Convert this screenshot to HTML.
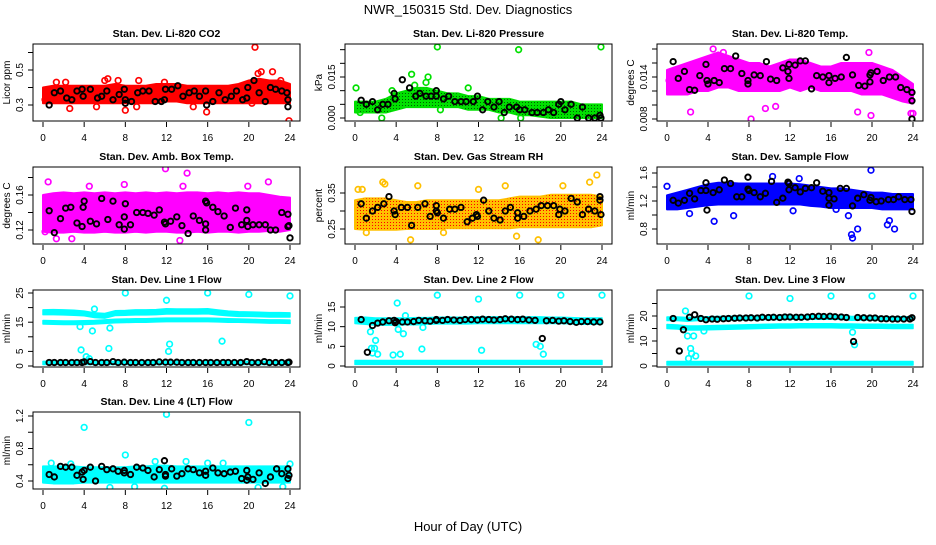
<!DOCTYPE html>
<html><head><meta charset="utf-8"><style>
html,body{margin:0;padding:0;background:#fff}
svg text{font-family:"Liberation Sans",Arial,sans-serif}
</style></head><body>
<svg id="chart" width="936" height="540" viewBox="0 0 936 540" xmlns="http://www.w3.org/2000/svg">
<rect width="936" height="540" fill="#fff"/>
<text x="468" y="14" font-size="13" text-anchor="middle">NWR_150315  Std. Dev. Diagnostics</text>
<text x="468" y="531" font-size="13" text-anchor="middle">Hour of Day (UTC)</text>
<g id="panels"></g>
</svg>
<script>
const bandHours=[0,1,2,3,4,5,6,7,8,9,10,11,12,13,14,15,16,17,18,19,20,21,22,23,24];
const xTicks=[0,4,8,12,16,20,24];

const co2Lo=[0.31,0.31,0.31,0.31,0.31,0.31,0.31,0.31,0.31,0.31,0.31,0.31,0.32,0.32,0.31,0.31,0.31,0.31,0.31,0.31,0.31,0.31,0.31,0.31,0.31];
const co2Hi=[0.40,0.41,0.41,0.41,0.41,0.41,0.41,0.42,0.41,0.41,0.41,0.42,0.42,0.42,0.41,0.41,0.41,0.41,0.41,0.42,0.44,0.45,0.44,0.44,0.42];
const co2Out=[[20.6,0.63],[23.9,0.21],[15.9,0.26],[8.0,0.27],[2.6,0.28],[5.2,0.29],[9.1,0.29],[14.6,0.29],[6.3,0.45],[6.0,0.44],[1.3,0.43],[2.2,0.43],[7.3,0.44],[9.3,0.44],[21.2,0.49],[22.3,0.49],[20.9,0.48],[23.1,0.44],[11.8,0.43],[20.3,0.31],[0.2,0.33]];
const co2Blk=[[0.6,0.30],[1.1,0.37],[1.7,0.38],[2.3,0.34],[2.8,0.33],[3.3,0.38],[3.8,0.39],[3.9,0.35],[4.6,0.39],[5.3,0.34],[5.7,0.35],[6.2,0.38],[6.8,0.33],[7.4,0.36],[7.9,0.39],[8.0,0.33],[8.0,0.31],[8.6,0.32],[9.2,0.37],[9.7,0.38],[10.3,0.38],[10.9,0.32],[11.5,0.32],[11.8,0.33],[11.9,0.39],[12.5,0.39],[13.1,0.41],[13.6,0.35],[14.2,0.37],[14.7,0.38],[15.2,0.35],[15.8,0.38],[15.9,0.30],[16.5,0.32],[17.1,0.37],[17.7,0.33],[18.3,0.35],[18.8,0.38],[19.4,0.33],[19.8,0.34],[19.9,0.40],[20.5,0.44],[21.0,0.37],[21.6,0.32],[22.1,0.40],[22.6,0.39],[23.2,0.38],[23.7,0.37],[23.8,0.33],[23.8,0.29]];

const presLo=[0.002,0.002,0.002,0.002,0.003,0.004,0.004,0.004,0.004,0.004,0.004,0.003,0.003,0.003,0.002,0.002,0.001,0.001,0.0005,0,0,0,0,0,0];
const presHi=[0.006,0.006,0.006,0.007,0.009,0.010,0.011,0.011,0.010,0.009,0.009,0.008,0.008,0.007,0.007,0.007,0.006,0.006,0.006,0.006,0.006,0.006,0.005,0.005,0.005];
const presOut=[[0.1,0.011],[0.5,0.002],[2.6,0.000],[5.5,0.016],[5.8,0.012],[7.1,0.015],[6.9,0.013],[8.0,0.026],[8.3,0.003],[15.9,0.025],[23.9,0.026],[14.2,0.000],[16.1,0.000],[3.6,0.010],[11,0.011]];
const presBlk=[[0.6,0.0065],[1.1,0.005],[1.7,0.006],[2.2,0.003],[2.7,0.005],[3.2,0.005],[3.8,0.009],[3.9,0.007],[4.6,0.014],[5.3,0.011],[5.9,0.008],[6.3,0.009],[6.9,0.008],[7.4,0.008],[7.9,0.010],[7.9,0.008],[8.6,0.007],[9.1,0.008],[9.7,0.006],[10.3,0.006],[10.8,0.006],[11.5,0.006],[11.9,0.008],[12.4,0.003],[12.9,0.006],[13.5,0.004],[14,0.006],[14.5,0.002],[15,0.004],[15.7,0.004],[16,0.003],[16.5,0.003],[17.2,0.002],[17.7,0.002],[18.3,0.002],[18.8,0.003],[19.3,0.002],[19.8,0.005],[20.0,0.006],[20.4,0.003],[21.0,0.005],[21.6,0.0],[22.1,0.004],[22.7,0.0],[23.3,0.0],[23.8,0.001],[23.9,0.0]];

const tLo=[0.0115,0.0115,0.0115,0.012,0.012,0.0125,0.0125,0.012,0.012,0.012,0.012,0.012,0.0125,0.012,0.0125,0.012,0.012,0.012,0.012,0.0115,0.0115,0.0115,0.011,0.0105,0.0102];
const tHi=[0.015,0.0155,0.016,0.0165,0.017,0.0175,0.017,0.0165,0.016,0.016,0.0155,0.016,0.0165,0.0165,0.016,0.0155,0.0155,0.016,0.016,0.016,0.016,0.0155,0.015,0.014,0.013];
const tOut=[[2.3,0.009],[8.2,0.008],[9.6,0.0095],[18.6,0.009],[19.9,0.0085],[23.8,0.0088],[24,0.0088],[19.7,0.0175],[4.5,0.018],[5.5,0.0175],[10.6,0.0098],[0.2,0.0135]];
const tBlk=[[0.6,0.0162],[1.1,0.0138],[1.7,0.0148],[2.2,0.0122],[2.7,0.0121],[3.2,0.0142],[3.8,0.0158],[3.9,0.0135],[4.0,0.0130],[4.6,0.0135],[5.1,0.0132],[5.6,0.0152],[6.2,0.0152],[6.7,0.0170],[7.3,0.0145],[7.9,0.0135],[7.9,0.0130],[8.5,0.0143],[9.1,0.0142],[9.7,0.0162],[10.1,0.0137],[10.7,0.0135],[11.3,0.0153],[11.8,0.0148],[11.9,0.0158],[11.9,0.0138],[12.5,0.0157],[13.0,0.0163],[13.5,0.0163],[14.1,0.0123],[14.6,0.0142],[15.2,0.0140],[15.8,0.0142],[15.8,0.0132],[16.4,0.0138],[17,0.0140],[17.5,0.0168],[18.1,0.0143],[18.7,0.0128],[19.3,0.0127],[19.8,0.0143],[19.9,0.0146],[19.8,0.0133],[20.5,0.0148],[21.1,0.0135],[21.7,0.0140],[22.3,0.0140],[22.8,0.0125],[23.4,0.0122],[23.9,0.0118],[23.9,0.0106],[23.9,0.0080]];

const ambLo=[0.118,0.117,0.117,0.118,0.117,0.117,0.118,0.117,0.117,0.118,0.117,0.118,0.118,0.117,0.117,0.118,0.117,0.118,0.118,0.117,0.118,0.118,0.119,0.118,0.120];
const ambHi=[0.160,0.162,0.163,0.162,0.163,0.162,0.163,0.162,0.163,0.162,0.163,0.162,0.163,0.162,0.163,0.163,0.162,0.163,0.162,0.163,0.162,0.162,0.160,0.158,0.157];
const ambOut=[[11.9,0.19],[14.0,0.185],[17.3,0.10],[2.8,0.11],[1.3,0.11],[0.5,0.175],[21.9,0.175],[13.6,0.17],[4.5,0.17],[7.9,0.172],[19.9,0.17],[0.2,0.118],[13.3,0.108]];
const ambBlk=[[0.6,0.142],[1.1,0.117],[1.7,0.133],[2.2,0.145],[2.7,0.146],[3.3,0.128],[3.8,0.124],[3.9,0.146],[4.0,0.153],[4.6,0.130],[5.2,0.127],[5.7,0.156],[6.3,0.132],[6.8,0.153],[7.4,0.126],[7.9,0.121],[7.9,0.135],[8.0,0.150],[8.5,0.126],[9.1,0.140],[9.7,0.140],[10.2,0.139],[10.8,0.137],[11.3,0.143],[11.8,0.129],[11.9,0.127],[12.4,0.130],[13,0.135],[13.5,0.125],[14.1,0.116],[14.6,0.136],[15.2,0.131],[15.8,0.120],[15.8,0.127],[15.8,0.153],[15.9,0.151],[16.5,0.146],[17,0.141],[17.6,0.136],[18.2,0.123],[18.7,0.145],[19.3,0.126],[19.8,0.143],[19.8,0.131],[19.9,0.124],[20.4,0.126],[21,0.126],[21.6,0.126],[22.1,0.120],[22.6,0.120],[23.2,0.140],[23.8,0.138],[23.8,0.124],[23.9,0.125],[24,0.111]];

const rhLo=[0.250,0.248,0.248,0.248,0.248,0.250,0.250,0.250,0.250,0.252,0.252,0.252,0.252,0.252,0.252,0.252,0.255,0.255,0.255,0.255,0.255,0.255,0.255,0.255,0.260];
const rhHi=[0.330,0.335,0.335,0.335,0.330,0.325,0.325,0.330,0.330,0.330,0.330,0.330,0.330,0.330,0.330,0.335,0.340,0.340,0.340,0.345,0.345,0.345,0.345,0.345,0.340];
const rhOut=[[2.7,0.38],[2.9,0.375],[6.1,0.37],[5.4,0.22],[17.8,0.22],[23.5,0.40],[15.7,0.23],[1.1,0.24],[8.6,0.24],[0.3,0.36],[0.7,0.36],[12.0,0.36],[14.6,0.37],[22.8,0.38],[20.2,0.37]];
const rhBlk=[[0.6,0.32],[1.1,0.28],[1.7,0.30],[2.2,0.31],[2.8,0.32],[3.3,0.34],[3.8,0.30],[3.9,0.29],[4.5,0.31],[5.1,0.31],[5.5,0.26],[6.1,0.31],[6.8,0.32],[7.3,0.285],[7.9,0.315],[7.9,0.30],[8.0,0.295],[8.6,0.28],[9.2,0.305],[9.7,0.305],[10.3,0.31],[10.9,0.27],[11.4,0.28],[11.8,0.29],[11.9,0.285],[12.5,0.33],[13,0.30],[13.5,0.28],[14.1,0.275],[14.6,0.30],[15.1,0.31],[15.8,0.28],[15.8,0.295],[16.4,0.285],[17,0.30],[17.6,0.305],[18.1,0.315],[18.7,0.315],[19.3,0.315],[19.8,0.29],[19.9,0.305],[20.4,0.30],[21,0.335],[21.6,0.325],[22.1,0.29],[22.7,0.305],[23.3,0.30],[23.8,0.33],[23.8,0.34],[23.9,0.29]];

const flLo=[1.08,1.08,1.10,1.12,1.14,1.15,1.15,1.15,1.15,1.15,1.15,1.15,1.15,1.15,1.13,1.12,1.10,1.10,1.10,1.10,1.10,1.08,1.08,1.08,1.08];
const flHi=[1.28,1.32,1.36,1.40,1.44,1.46,1.46,1.45,1.45,1.45,1.45,1.45,1.45,1.44,1.42,1.40,1.38,1.38,1.36,1.34,1.32,1.32,1.30,1.30,1.30];
const flOut=[[4.6,0.91],[6.5,0.99],[18.0,0.72],[18.1,0.67],[18.6,0.80],[19.9,1.64],[21.5,0.86],[21.7,0.92],[22.2,0.80],[17.7,0.99],[10.3,1.55],[12.9,1.52],[0.0,1.41],[2.2,1.02],[16.5,1.08],[12.3,1.06]];
const flBlk=[[0.6,1.21],[1.1,1.17],[1.7,1.21],[2.2,1.31],[2.7,1.23],[3.3,1.35],[3.8,1.46],[3.8,1.35],[3.9,1.07],[4.5,1.32],[5.1,1.36],[5.6,1.50],[6.2,1.45],[6.8,1.26],[7.3,1.26],[7.9,1.54],[7.9,1.37],[8.0,1.35],[8.5,1.32],[9.1,1.26],[9.6,1.31],[10.2,1.48],[10.7,1.18],[11.3,1.24],[11.8,1.47],[11.9,1.45],[11.9,1.36],[12.5,1.39],[13,1.33],[13.5,1.38],[14.1,1.39],[14.6,1.46],[15.2,1.34],[15.8,1.32],[15.8,1.24],[15.8,1.14],[16.3,1.23],[16.9,1.38],[17.5,1.38],[18.1,1.13],[18.6,1.24],[19.2,1.29],[19.8,1.21],[19.9,1.25],[20.4,1.19],[20.9,1.20],[21.6,1.22],[22.1,1.22],[22.6,1.26],[23.2,1.22],[23.8,1.22],[23.9,1.05]];

const l1aLo=[17.6,17.6,17.5,17.4,17.2,16.6,16.4,17.3,17.4,17.5,17.5,17.6,17.8,17.8,17.8,17.8,17.9,17.5,17.2,17.0,17.0,16.9,16.8,16.8,16.8];
const l1aHi=[19.2,19.3,19.2,19.1,18.8,18.2,18.0,18.9,19.0,19.2,19.2,19.3,19.6,19.5,19.5,19.5,19.6,19.2,18.8,18.6,18.5,18.4,18.3,18.3,18.2];
const l1bLo=[14.4,14.3,14.2,14.2,14.2,14.4,14.6,14.8,14.9,15.0,15.0,15.1,15.2,15.2,15.2,15.2,15.2,15.1,15.0,15.0,14.9,14.8,14.7,14.7,14.6];
const l1bHi=[15.6,15.5,15.4,15.4,15.5,15.6,15.8,16.0,16.1,16.2,16.2,16.3,16.4,16.4,16.4,16.4,16.4,16.3,16.2,16.1,16.0,15.9,15.8,15.8,15.7];
const l1cLo=[0.5,0.5,0.5,0.5,0.5,0.5,0.5,0.5,0.5,0.5,0.5,0.5,0.5,0.5,0.5,0.5,0.5,0.5,0.5,0.5,0.5,0.5,0.5,0.5,0.5];
const l1cHi=[1.6,1.6,1.6,1.6,1.6,1.6,1.6,1.6,1.6,1.6,1.6,1.6,1.6,1.6,1.6,1.6,1.6,1.6,1.6,1.6,1.6,1.6,1.6,1.6,1.6];
const l1Out=[[3.7,5.5],[4.2,3.2],[4.5,2.5],[4.8,12],[5.0,19.5],[6.5,13],[6.4,6],[8,25],[12,22.5],[12.2,5],[12.3,7.5],[16,25],[17.4,8.5],[20,24.5],[24,24],[3.6,13.5]];
const l1Blk=[[0.6,1.2],[1.1,1.2],[1.7,1.2],[2.2,1.2],[2.8,1.2],[3.3,1.2],[3.8,1.2],[4.0,1.4],[4.6,1.5],[5.1,1.2],[5.7,1.2],[6.2,1.2],[6.8,1.5],[7.3,1.2],[7.9,1.3],[8.5,1.2],[9.0,1.2],[9.6,1.2],[10.2,1.2],[10.7,1.2],[11.3,1.4],[11.9,1.3],[12.4,1.3],[13,1.3],[13.5,1.2],[14.1,1.2],[14.6,1.2],[15.2,1.2],[15.8,1.2],[16.3,1.2],[16.9,1.2],[17.5,1.2],[18.0,1.2],[18.6,1.2],[19.2,1.2],[19.8,1.5],[20.3,1.2],[20.9,1.2],[21.5,1.5],[22.0,1.2],[22.6,1.2],[23.2,1.2],[23.8,1.2],[23.9,1.3]];

const l2aLo=[10.8,10.6,10.4,10.4,10.4,10.5,10.5,10.6,10.7,10.7,10.7,10.7,10.8,10.8,10.8,10.8,10.8,10.8,10.8,10.8,10.8,10.7,10.6,10.6,10.6];
const l2aHi=[12.3,12.4,12.2,12.2,12.2,12.2,12.3,12.3,12.4,12.4,12.4,12.4,12.5,12.5,12.5,12.5,12.5,12.5,12.5,12.4,12.4,12.3,12.2,12.2,12.2];
const l2bLo=[0.4,0.4,0.4,0.4,0.4,0.4,0.4,0.4,0.4,0.4,0.4,0.4,0.4,0.4,0.4,0.4,0.4,0.4,0.4,0.4,0.4,0.4,0.4,0.4,0.4];
const l2bHi=[1.4,1.4,1.4,1.4,1.4,1.4,1.4,1.4,1.4,1.4,1.4,1.4,1.4,1.4,1.4,1.4,1.4,1.4,1.4,1.4,1.4,1.4,1.4,1.4,1.4];
const l2Out=[[1.5,8.7],[1.6,4.5],[1.9,4.5],[2.0,6.5],[1.7,3.3],[2.2,3.0],[3.7,2.8],[4.1,16],[4.2,9.3],[4.4,3],[4.7,8.2],[4.9,12.8],[6.5,4.3],[6.6,9.8],[8,18],[12,17],[12.3,4],[16,18],[17.6,5.5],[18,5],[18.3,3],[20,18],[24,18]];
const l2Blk=[[0.6,11.8],[1.2,3.5],[1.7,10.3],[2.2,10.9],[2.7,11.2],[3.3,11.5],[3.8,11.6],[3.9,11.0],[4.0,11.3],[4.6,11.2],[5.1,11.2],[5.7,11.3],[6.2,11.6],[6.8,11.5],[7.3,11.4],[7.9,11.6],[7.9,11.8],[8.5,11.6],[9.0,11.8],[9.6,11.7],[10.2,11.6],[10.7,11.8],[11.3,11.8],[11.9,11.7],[12.4,11.9],[13,11.8],[13.5,11.7],[14.1,11.8],[14.6,12.0],[15.2,11.9],[15.8,11.8],[16.3,11.9],[16.9,11.7],[17.5,11.6],[18.2,7.0],[18.6,11.5],[19.2,11.6],[19.8,11.4],[20.3,11.5],[20.9,11.3],[21.5,11.1],[22.0,11.3],[22.6,11.3],[23.2,11.2],[23.8,11.2]];

const l3aLo=[18.2,18.2,17.9,18.2,18.2,18.3,18.4,18.4,18.5,18.5,18.6,18.6,18.7,18.7,18.7,18.7,18.7,18.7,18.3,18.4,18.4,18.4,18.3,18.3,18.3];
const l3aHi=[19.6,19.6,19.4,19.6,19.7,19.8,19.9,19.9,20.0,20.0,20.1,20.1,20.2,20.2,20.2,20.2,20.2,20.2,19.8,19.8,19.8,19.8,19.7,19.7,19.7];
const l3bLo=[15.0,14.8,14.4,14.4,14.5,14.6,14.7,14.8,14.9,15.0,15.1,15.2,15.2,15.3,15.3,15.3,15.3,15.2,15.2,15.1,15.1,15.1,15.0,15.0,15.0];
const l3bHi=[16.6,16.4,16.0,16.0,16.1,16.2,16.3,16.4,16.5,16.6,16.7,16.8,16.8,16.9,16.9,16.9,16.9,16.8,16.8,16.7,16.7,16.7,16.6,16.6,16.6];
const l3cLo=[0.4,0.4,0.4,0.4,0.4,0.4,0.4,0.4,0.4,0.4,0.4,0.4,0.4,0.4,0.4,0.4,0.4,0.4,0.4,0.4,0.4,0.4,0.4,0.4,0.4];
const l3cHi=[1.8,1.8,1.8,1.8,1.8,1.8,1.8,1.8,1.8,1.8,1.8,1.8,1.8,1.8,1.8,1.8,1.8,1.8,1.8,1.8,1.8,1.8,1.8,1.8,1.8];
const l3Out=[[1.8,22],[2.0,12],[2.3,7],[2.4,5],[2.1,3],[2.6,12],[2.8,4],[3.6,14],[8,28],[12,27],[16,28],[18.1,13.5],[18.3,8.5],[20,28],[24,28]];
const l3Blk=[[0.6,19],[1.2,6],[1.6,14.5],[2.2,19.5],[2.7,20.5],[3.3,19],[3.8,18.5],[4.4,18.8],[4.9,18.7],[5.5,18.9],[6.0,19.0],[6.6,19.1],[7.1,19.2],[7.7,19.2],[8.2,19.3],[8.8,19.2],[9.3,19.5],[9.9,19.4],[10.4,19.5],[11.0,19.4],[11.5,19.6],[12,19.6],[12.6,19.5],[13.1,19.5],[13.7,19.6],[14.2,19.8],[14.8,19.9],[15.3,19.8],[15.9,19.9],[16.4,19.7],[17,19.6],[17.5,19.4],[18.2,9.8],[18.6,19.4],[19.2,19.3],[19.8,19.2],[20.3,19.2],[20.9,18.9],[21.4,18.9],[22,18.8],[22.5,18.8],[23.1,18.8],[23.7,18.8],[23.9,19.3]];

const l4Lo=[0.38,0.37,0.37,0.37,0.38,0.38,0.38,0.38,0.38,0.38,0.38,0.38,0.38,0.38,0.38,0.38,0.38,0.38,0.38,0.38,0.38,0.38,0.38,0.38,0.38];
const l4Hi=[0.58,0.58,0.58,0.58,0.57,0.57,0.57,0.57,0.57,0.58,0.58,0.59,0.59,0.58,0.58,0.58,0.58,0.58,0.58,0.58,0.58,0.58,0.58,0.58,0.58];
const l4Out=[[4,1.06],[12,1.22],[20,1.12],[8,0.72],[6.5,0.32],[11.8,0.31],[20.9,0.32],[23.3,0.33],[10.9,0.64],[13.9,0.64],[0.8,0.62],[2.7,0.61],[16,0.62],[17.5,0.62],[24,0.61],[8.9,0.33]];
const l4Blk=[[0.6,0.48],[1.1,0.45],[1.7,0.58],[2.2,0.57],[2.8,0.57],[3.3,0.47],[3.8,0.51],[3.9,0.42],[4.0,0.53],[4.6,0.57],[5.1,0.40],[5.7,0.58],[6.2,0.54],[6.8,0.55],[7.3,0.52],[7.9,0.50],[7.9,0.53],[8.5,0.48],[9.1,0.57],[9.7,0.56],[10.2,0.53],[10.8,0.45],[11.3,0.54],[11.8,0.65],[11.9,0.48],[11.9,0.46],[12.5,0.55],[13,0.46],[13.5,0.49],[14.1,0.55],[14.6,0.54],[15.2,0.50],[15.8,0.52],[15.8,0.47],[16.5,0.56],[17,0.50],[17.6,0.49],[18.2,0.51],[18.7,0.52],[19.3,0.43],[19.8,0.53],[19.8,0.41],[19.9,0.45],[20.4,0.42],[21,0.50],[21.6,0.37],[22.1,0.45],[22.7,0.55],[23.2,0.49],[23.8,0.55],[23.8,0.43],[23.9,0.47]];

const NS='http://www.w3.org/2000/svg';
const root=document.getElementById('panels');
const cols=[{bx:33,br:300,x0:43,x24:290},{bx:345,br:612,x0:355,x24:602},{bx:657,br:923,x0:667,x24:913}];
const rows=[{top:44,bot:121},{top:167,bot:244},{top:290,bot:367},{top:412,bot:489}];

function mk(tag,attrs,parent){const e=document.createElementNS(NS,tag);for(const k in attrs)e.setAttribute(k,attrs[k]);(parent||root).appendChild(e);return e;}

function drawPanel(p){
  const c=cols[p.col], r=rows[p.row];
  const g=mk('g',{});
  
  
  const xs=h=>c.x0+(c.x24-c.x0)*h/24;
  const ys=v=>p.y1px+(v-p.y1)*(p.y2px-p.y1px)/(p.y2-p.y1);
  const clipId='clip-'+p.name;
  const cp=mk('clipPath',{id:clipId},g);
  mk('rect',{x:c.bx,y:r.top,width:c.br-c.bx,height:r.bot-r.top},cp);
  const plot=mk('g',{'clip-path':'url(#'+clipId+')'},g);
  
  
  const sw=p.bandStroke||2;
  p.bands.forEach((b,bi)=>{
    let pts=[];
    bandHours.forEach((h,i)=>pts.push(xs(h)+','+ys(b[1][i])));
    for(let i=bandHours.length-1;i>=0;i--)pts.push(xs(bandHours[i])+','+ys(b[0][i]));
    const poly=mk('polygon',{points:pts.join(' '),fill:p.color,stroke:p.color,'stroke-width':sw,'stroke-linejoin':'round'},plot);
    
    
    if(p.stipple){
      const poly2=mk('polygon',{points:pts.join(' '),fill:'url(#'+p.stipple+')',stroke:'none'},plot);
      
      
    }
  });
  p.out.forEach(d=>{
    const e=mk('circle',{cx:xs(d[0]),cy:ys(d[1]),r:2.8,fill:'none',stroke:p.color,'stroke-width':1.7},plot);
    
    
  });
  p.blk.forEach(d=>{
    const e=mk('circle',{cx:xs(d[0]),cy:ys(d[1]),r:2.7,fill:'none',stroke:'#000','stroke-width':1.9},plot);
    
    
  });
  const box=mk('rect',{x:c.bx,y:r.top,width:c.br-c.bx,height:r.bot-r.top,fill:'none',stroke:'#000','stroke-width':1},g);
  
  
  xTicks.forEach(t=>{
    const x=xs(t);
    const l=mk('line',{x1:x,x2:x,y1:r.bot+1,y2:r.bot+6,stroke:'#000'},g);
    
    
    const tx=mk('text',{x:x,y:r.bot+20,'font-size':10,'text-anchor':'middle'},g);
    tx.textContent=t;
    
    
  });
  p.yTicks.forEach(t=>{
    const y=ys(t);
    const l=mk('line',{x1:c.bx-5,x2:c.bx,y1:y,y2:y,stroke:'#000'},g);
    
    
  });
  p.yLabels.forEach((t,i)=>{
    const y=ys(p.yLabelVals[i]);
    const xl=c.bx-10;
    const tx=mk('text',{x:xl,y:y,'font-size':10,'text-anchor':'middle',transform:'rotate(-90 '+xl+' '+y+')'},g);
    tx.textContent=t;
    
    
  });
  const yl=c.bx-23, ym=(r.top+r.bot)/2;
  const yt=mk('text',{x:yl,y:ym,'font-size':10,'text-anchor':'middle',transform:'rotate(-90 '+yl+' '+ym+')'},g);
  yt.textContent=p.ylab;
  
  
  const tt=mk('text',{x:(c.bx+c.br)/2,y:r.top-7,'font-size':10.5,'font-weight':'bold','text-anchor':'middle'},g);
  tt.textContent=p.title;
  
  
}

const defs=mk('defs',{});
function pat(id,col){const pt=mk('pattern',{id:id,width:3,height:3,patternUnits:'userSpaceOnUse'},defs);mk('rect',{x:0,y:0,width:1,height:1,fill:col},pt);}
pat('stip-green','#006000');pat('stip-orange','#ff0000');

const panels=[
 {name:'co2-panel',col:0,row:0,title:'Stan. Dev. Li-820 CO2',ylab:'Licor ppm',color:'#ff0000',y1:0.3,y1px:105,y2:0.5,y2px:70,yTicks:[0.3,0.4,0.5,0.6],yLabels:['0.3','0.5'],yLabelVals:[0.3,0.5],bands:[[co2Lo,co2Hi]],out:co2Out,blk:co2Blk},
 {name:'pressure-panel',col:1,row:0,title:'Stan. Dev. Li-820 Pressure',ylab:'kPa',color:'#00e000',stipple:'stip-green',y1:0,y1px:118,y2:0.015,y2px:77,yTicks:[0,0.005,0.01,0.015,0.02,0.025],yLabels:['0.000','0.015'],yLabelVals:[0,0.015],bands:[[presLo,presHi]],out:presOut,blk:presBlk},
 {name:'li820-temp-panel',col:2,row:0,title:'Stan. Dev. Li-820 Temp.',ylab:'degrees C',color:'#ff00ff',y1:0.008,y1px:119,y2:0.014,y2px:77,yTicks:[0.008,0.010,0.012,0.014,0.016,0.018],yLabels:['0.008','0.014'],yLabelVals:[0.008,0.014],bands:[[tLo,tHi]],out:tOut,blk:tBlk},
 {name:'amb-box-temp-panel',col:0,row:1,title:'Stan. Dev. Amb. Box Temp.',ylab:'degrees C',color:'#ff00ff',y1:0.12,y1px:230,y2:0.16,y2px:195,yTicks:[0.12,0.14,0.16,0.18],yLabels:['0.12','0.16'],yLabelVals:[0.12,0.16],bands:[[ambLo,ambHi]],out:ambOut,blk:ambBlk},
 {name:'gas-rh-panel',col:1,row:1,title:'Stan. Dev. Gas Stream RH',ylab:'percent',color:'#ffc000',stipple:'stip-orange',y1:0.25,y1px:229,y2:0.35,y2px:193,yTicks:[0.25,0.30,0.35],yLabels:['0.25','0.35'],yLabelVals:[0.25,0.35],bands:[[rhLo,rhHi]],out:rhOut,blk:rhBlk},
 {name:'sample-flow-panel',col:2,row:1,title:'Stan. Dev. Sample Flow',ylab:'ml/min',color:'#0000ff',y1:0.8,y1px:229,y2:1.6,y2px:173,yTicks:[0.8,1.0,1.2,1.4,1.6],yLabels:['0.8','1.2','1.6'],yLabelVals:[0.8,1.2,1.6],bands:[[flLo,flHi]],out:flOut,blk:flBlk},
 {name:'line1-flow-panel',col:0,row:2,title:'Stan. Dev. Line 1 Flow',ylab:'ml/min',color:'#00ffff',bandStroke:1.5,y1:0,y1px:366,y2:25,y2px:293,yTicks:[0,5,10,15,20,25],yLabels:['0','5','15','25'],yLabelVals:[0,5,15,25],bands:[[l1aLo,l1aHi],[l1bLo,l1bHi],[l1cLo,l1cHi]],out:l1Out,blk:l1Blk},
 {name:'line2-flow-panel',col:1,row:2,title:'Stan. Dev. Line 2 Flow',ylab:'ml/min',color:'#00ffff',bandStroke:1.5,y1:0,y1px:366,y2:15,y2px:307,yTicks:[0,5,10,15],yLabels:['0','5','10','15'],yLabelVals:[0,5,10,15],bands:[[l2aLo,l2aHi],[l2bLo,l2bHi]],out:l2Out,blk:l2Blk},
 {name:'line3-flow-panel',col:2,row:2,title:'Stan. Dev. Line 3 Flow',ylab:'ml/min',color:'#00ffff',bandStroke:1.5,y1:0,y1px:366,y2:20,y2px:316,yTicks:[0,5,10,15,20,25],yLabels:['0','10','20'],yLabelVals:[0,10,20],bands:[[l3aLo,l3aHi],[l3bLo,l3bHi],[l3cLo,l3cHi]],out:l3Out,blk:l3Blk},
 {name:'line4-flow-panel',col:0,row:3,title:'Stan. Dev. Line 4 (LT) Flow',ylab:'ml/min',color:'#00ffff',y1:0.4,y1px:481,y2:1.2,y2px:416,yTicks:[0.4,0.6,0.8,1.0,1.2],yLabels:['0.4','0.8','1.2'],yLabelVals:[0.4,0.8,1.2],bands:[[l4Lo,l4Hi]],out:l4Out,blk:l4Blk}
];
panels.forEach(drawPanel);
</script>
</body></html>
